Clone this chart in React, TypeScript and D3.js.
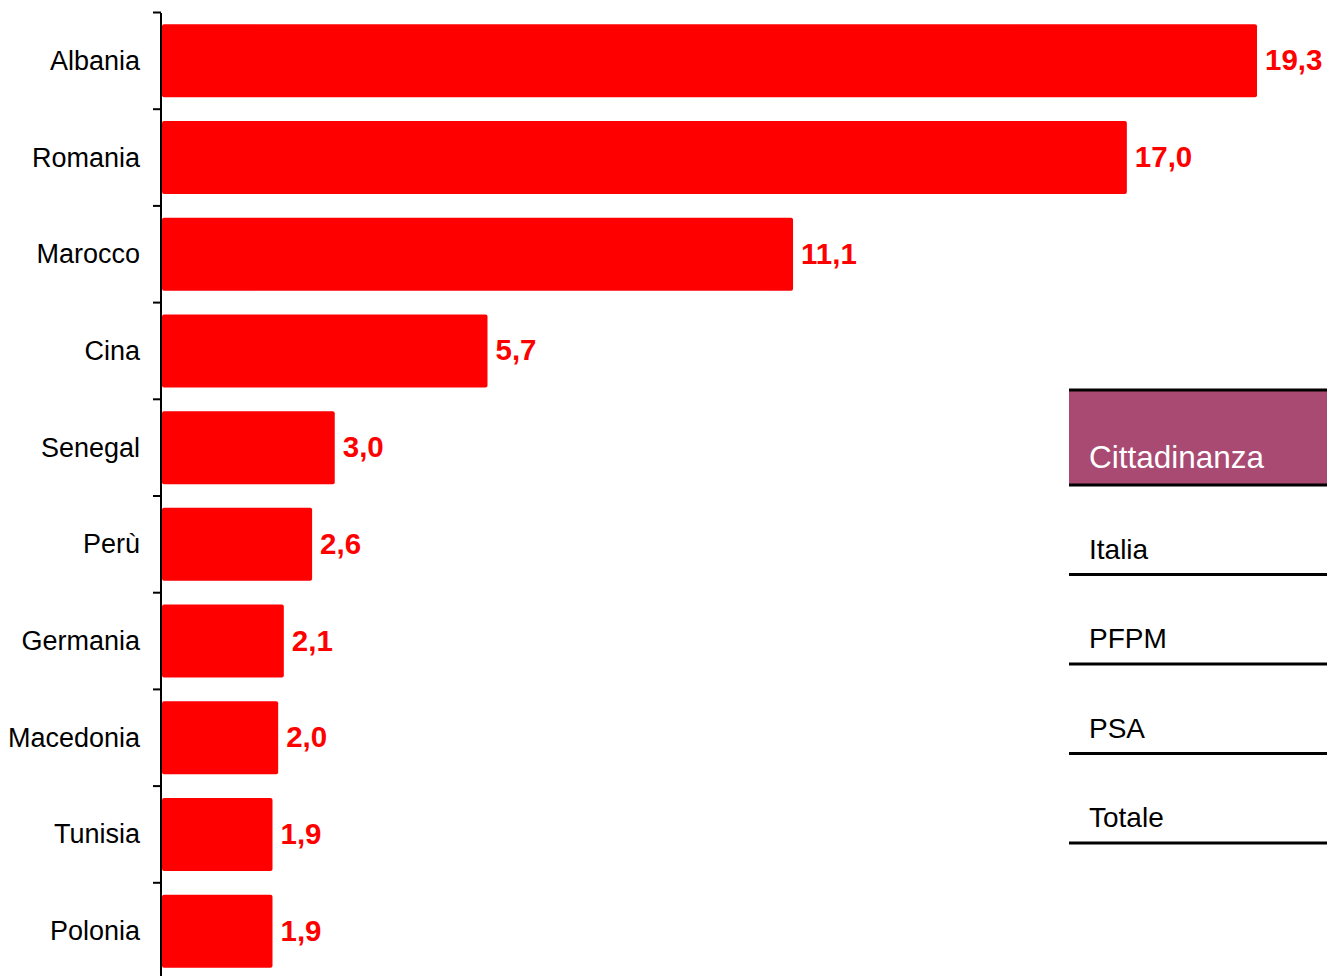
import React from "react";
import * as d3 from "d3";

const countries = ["Albania", "Romania", "Marocco", "Cina", "Senegal", "Perù", "Germania", "Macedonia", "Tunisia", "Polonia"];
const values = [19.3, 17.0, 11.1, 5.7, 3.0, 2.6, 2.1, 2.0, 1.9, 1.9];
const tableHeader = "Cittadinanza";
const tableRows = ["Italia", "PFPM", "PSA", "Totale"];

const W = 1327;
const H = 976;

export default function App() {
  const y = d3.scaleBand<string>().domain(countries).range([12.5, 979.5]).paddingInner(0.245).paddingOuter(0.1225);
  const x = d3.scaleLinear().domain([0, 19.3]).range([165, 1257]);
  const barStart = 162;
  const step = y.step();
  const gap = step - y.bandwidth();
  const tickYs = countries.map((c) => (y(c) as number) - gap / 2);
  tickYs.push((y(countries[countries.length - 1]) as number) + y.bandwidth() + gap / 2);
  const fmt = (v: number) => v.toFixed(1).replace(".", ",");
  const font = "'Liberation Sans', Arial, sans-serif";

  const rowBaselines = [558.5, 648, 738, 827];
  const rowLines = [574.5, 664, 753.5, 843];

  return (
    <svg width={W} height={H} style={{ position: "absolute", left: 0, top: 0, background: "#fff" }} fontFamily={font}>
      {countries.map((c, i) => (
        <rect key={c} x={barStart} y={y(c)} width={x(values[i]) - barStart} height={y.bandwidth()} rx={2} fill="#ff0000" />
      ))}
      <line x1={161} x2={161} y1={13} y2={H + 10} stroke="#000" strokeWidth={2} />
      {tickYs.map((t, i) => (
        <line key={i} x1={153} x2={161} y1={t} y2={t} stroke="#000" strokeWidth={2} />
      ))}
      {countries.map((c) => (
        <text key={c} x={140} y={(y(c) as number) + y.bandwidth() / 2} textAnchor="end" dominantBaseline="central" fontSize={27} fill="#000">
          {c}
        </text>
      ))}
      {countries.map((c, i) => (
        <text key={c} x={x(values[i]) + 8} y={(y(c) as number) + y.bandwidth() / 2 - 1} dominantBaseline="central" fontSize={29.5} fontWeight="bold" fill="#ff0000">
          {fmt(values[i])}
        </text>
      ))}
      <rect x={1069} y={391} width={270} height={93} fill="#A94A73" />
      <line x1={1069} x2={W + 5} y1={390} y2={390} stroke="#000" strokeWidth={3} />
      <line x1={1069} x2={W + 5} y1={485} y2={485} stroke="#000" strokeWidth={3} />
      <text x={1089} y={467.5} fontSize={31.5} fill="#fff">{tableHeader}</text>
      {tableRows.map((r, i) => (
        <g key={r}>
          <text x={1089} y={rowBaselines[i]} fontSize={28} fill="#000">{r}</text>
          <line x1={1069} x2={W + 5} y1={rowLines[i]} y2={rowLines[i]} stroke="#000" strokeWidth={3} />
        </g>
      ))}
    </svg>
  );
}
